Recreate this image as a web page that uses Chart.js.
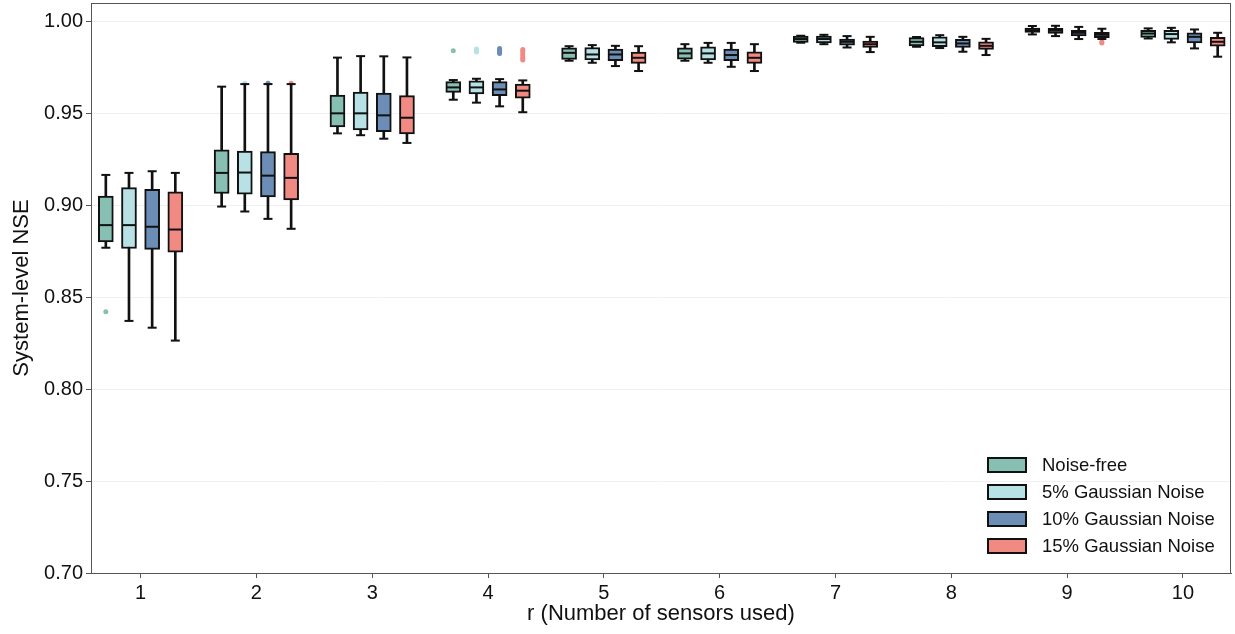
<!DOCTYPE html>
<html>
<head>
<meta charset="utf-8">
<script src="https://cdn.jsdelivr.net/npm/chart.js@4.4.0/dist/chart.umd.min.js"></script>
<style>
  body { margin: 0; background: #fff; }
</style>
</head>
<body>
<canvas id="nseChart" width="1235" height="634"></canvas>
<script>
const sensorCounts = [1, 2, 3, 4, 5, 6, 7, 8, 9, 10];
const yTicks = [0.70, 0.75, 0.80, 0.85, 0.90, 0.95, 1.00];
const seriesNames = ['Noise-free', '5% Gaussian Noise', '10% Gaussian Noise', '15% Gaussian Noise'];
const seriesColors = ['#87bfb3', '#b7e1e4', '#6b8db6', '#f08a83'];
const groupOffsets = [-0.3, -0.1, 0.1, 0.3];

// one row per series, one value per sensor count
const whiskerHigh = [
  [0.9165, 0.9645, 0.9803, 0.9681, 0.9865, 0.9876, 0.9922, 0.9915, 0.9975, 0.9962],
  [0.9176, 0.9659, 0.9811, 0.9688, 0.9871, 0.9883, 0.9927, 0.9925, 0.9976, 0.9965],
  [0.9185, 0.9659, 0.9810, 0.9686, 0.9867, 0.9883, 0.9920, 0.9916, 0.9970, 0.9956],
  [0.9176, 0.9659, 0.9804, 0.9679, 0.9865, 0.9876, 0.9916, 0.9905, 0.9960, 0.9938]
];
const upperQuartile = [
  [0.9050, 0.9301, 0.9599, 0.9672, 0.9856, 0.9856, 0.9920, 0.9912, 0.9964, 0.9952],
  [0.9096, 0.9295, 0.9616, 0.9677, 0.9858, 0.9862, 0.9920, 0.9916, 0.9962, 0.9952],
  [0.9086, 0.9292, 0.9610, 0.9672, 0.9849, 0.9849, 0.9904, 0.9902, 0.9952, 0.9938],
  [0.9073, 0.9283, 0.9596, 0.9659, 0.9833, 0.9835, 0.9893, 0.9889, 0.9940, 0.9913]
];
const medians = [
  [0.8892, 0.9176, 0.9500, 0.9641, 0.9829, 0.9826, 0.9904, 0.9889, 0.9952, 0.9934],
  [0.8892, 0.9178, 0.9500, 0.9641, 0.9820, 0.9826, 0.9904, 0.9886, 0.9949, 0.9931],
  [0.8883, 0.9161, 0.9489, 0.9630, 0.9820, 0.9817, 0.9889, 0.9880, 0.9938, 0.9916],
  [0.8868, 0.9149, 0.9476, 0.9623, 0.9802, 0.9802, 0.9876, 0.9867, 0.9927, 0.9889]
];
const lowerQuartile = [
  [0.8800, 0.9064, 0.9426, 0.9614, 0.9793, 0.9795, 0.9886, 0.9867, 0.9940, 0.9913],
  [0.8765, 0.9060, 0.9410, 0.9605, 0.9790, 0.9790, 0.9883, 0.9862, 0.9934, 0.9902],
  [0.8760, 0.9046, 0.9400, 0.9596, 0.9786, 0.9786, 0.9871, 0.9858, 0.9921, 0.9883],
  [0.8745, 0.9029, 0.9388, 0.9582, 0.9772, 0.9772, 0.9858, 0.9848, 0.9911, 0.9865]
];
const whiskerLow = [
  [0.8769, 0.8993, 0.9391, 0.9574, 0.9786, 0.9786, 0.9884, 0.9862, 0.9929, 0.9907],
  [0.8371, 0.8966, 0.9381, 0.9558, 0.9775, 0.9775, 0.9876, 0.9855, 0.9920, 0.9886],
  [0.8334, 0.8926, 0.9362, 0.9538, 0.9757, 0.9753, 0.9858, 0.9835, 0.9904, 0.9853],
  [0.8264, 0.8872, 0.9339, 0.9506, 0.9730, 0.9730, 0.9833, 0.9817, 0.9904, 0.9808]
];
// [sensor count, NSE]
const outliers = [
  [[1, 0.8421], [4, 0.9840]],
  [[2, 0.9664], [4, 0.9850], [4, 0.9840], [4, 0.9833]],
  [[2, 0.9664], [4, 0.9852], [4, 0.9843], [4, 0.9834], [4, 0.9825]],
  [[2, 0.9664], [4, 0.9847], [4, 0.9836], [4, 0.9824], [4, 0.9812], [4, 0.9800], [4, 0.9790], [9, 0.9883], [9, 0.9888]]
];

const FONT = "'Liberation Sans', Arial, sans-serif";
const INK = '#111';

const datasets = [];
seriesNames.forEach((name, s) => {
  const xAt = i => sensorCounts[i] + groupOffsets[s];
  datasets.push({
    type: 'bar', label: name, isBox: true,
    data: sensorCounts.map((r, i) => ({ x: xAt(i), y: [lowerQuartile[s][i], upperQuartile[s][i]] })),
    backgroundColor: seriesColors[s], borderColor: INK, borderWidth: 2, borderSkipped: false,
    barThickness: 15, grouped: false, order: 2
  });
  datasets.push({
    type: 'bar', label: name + ' whiskers',
    data: sensorCounts.map((r, i) => ({ x: xAt(i), y: [whiskerLow[s][i], whiskerHigh[s][i]] })),
    backgroundColor: INK, borderWidth: 0, barThickness: 2, grouped: false, order: 3
  });
  datasets.push({
    type: 'line', label: name + ' caps', showLine: false,
    data: sensorCounts.flatMap((r, i) => [{ x: xAt(i), y: whiskerHigh[s][i] }, { x: xAt(i), y: whiskerLow[s][i] }]),
    pointStyle: 'line', pointRadius: 4.5, pointBorderWidth: 2, pointBorderColor: INK, order: 1
  });
  datasets.push({
    type: 'line', label: name + ' medians', showLine: false,
    data: sensorCounts.map((r, i) => ({ x: xAt(i), y: medians[s][i] })),
    pointStyle: 'line', pointRadius: 7, pointBorderWidth: 2, pointBorderColor: INK, order: 0
  });
  datasets.push({
    type: 'line', label: name + ' outliers', showLine: false,
    data: outliers[s].map(([r, v]) => ({ x: r + groupOffsets[s], y: v })),
    pointStyle: 'circle', pointRadius: 2.5, pointBorderWidth: 0,
    pointBackgroundColor: seriesColors[s], order: 4
  });
});

const frame = {
  id: 'frame',
  afterDraw(chart) {
    const { ctx, chartArea: a } = chart;
    ctx.save();
    ctx.strokeStyle = '#555';
    ctx.lineWidth = 1;
    ctx.strokeRect(Math.round(a.left) + 0.5, Math.round(a.top) + 0.5, Math.round(a.right - a.left) - 1, Math.round(a.bottom - a.top));
    ctx.restore();
  }
};

const boxLegend = {
  id: 'boxLegend',
  afterDraw(chart) {
    const { ctx, chartArea: a } = chart;
    const boxes = chart.data.datasets.filter(d => d.isBox);
    const left = a.right - 243;
    const firstY = a.bottom - 108;
    ctx.save();
    ctx.font = '18.5px ' + FONT;
    ctx.textBaseline = 'middle';
    boxes.forEach((d, i) => {
      const y = firstY + i * 27;
      ctx.fillStyle = d.backgroundColor;
      ctx.fillRect(left, y - 7, 38, 14);
      ctx.strokeStyle = INK;
      ctx.lineWidth = 2;
      ctx.strokeRect(left, y - 7, 38, 14);
      ctx.fillStyle = INK;
      ctx.fillText(d.label, left + 54, y + 1);
    });
    ctx.restore();
  }
};

new Chart(document.getElementById('nseChart'), {
  type: 'bar',
  data: { datasets },
  plugins: [frame, boxLegend],
  options: {
    responsive: false,
    animation: false,
    events: [],
    layout: { autoPadding: false, padding: { top: 3, right: 4, left: 0, bottom: 0 } },
    plugins: { legend: { display: false }, tooltip: { enabled: false } },
    scales: {
      x: {
        type: 'linear', min: 0.572, max: 10.415, offset: false,
        afterBuildTicks: s => { s.ticks = sensorCounts.map(v => ({ value: v })); },
        afterFit: s => { s.height = 61; s.paddingLeft = 0; s.paddingRight = 0; },
        ticks: { font: { family: FONT, size: 20 }, color: INK, padding: 3 },
        grid: { drawOnChartArea: false, offset: false, tickLength: 5, tickColor: '#555' },
        border: { color: '#555', width: 1 },
        title: { display: true, text: 'r (Number of sensors used)', color: INK,
                 font: { family: FONT, size: 22 }, padding: { top: 0, bottom: 7 } }
      },
      y: {
        min: 0.70, max: 1.01,
        afterBuildTicks: s => { s.ticks = yTicks.map(v => ({ value: v })); },
        afterFit: s => { s.width = 91; s.paddingTop = 0; s.paddingBottom = 0; },
        ticks: { font: { family: FONT, size: 20 }, color: INK, padding: 3, callback: v => v.toFixed(2) },
        grid: { color: '#f0f0f0', tickLength: 5, tickColor: '#555' },
        border: { color: '#555', width: 1 },
        title: { display: true, text: 'System-level NSE', color: INK,
                 font: { family: FONT, size: 22 }, padding: { top: 9, bottom: 0 } }
      }
    }
  }
});
</script>
</body>
</html>
